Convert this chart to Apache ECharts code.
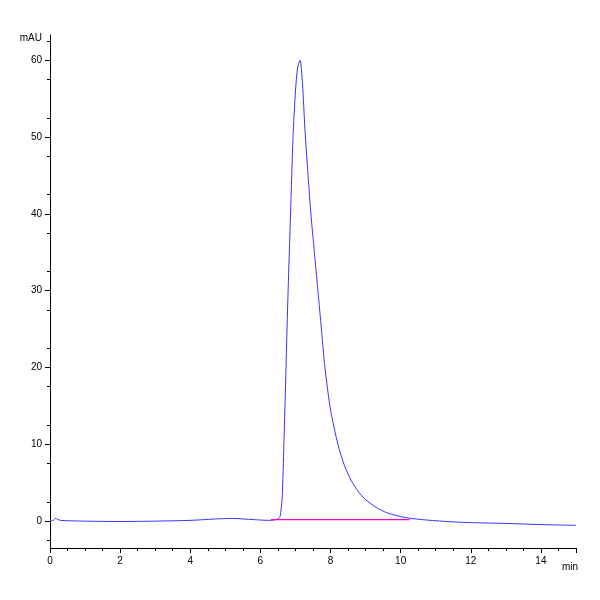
<!DOCTYPE html><html><head><meta charset="utf-8"><script src="https://cdn.jsdelivr.net/npm/echarts@6/dist/echarts.min.js"></script></head><body style="margin:0"><div id="c" style="width:600px;height:600px"></div><script>
const times=[0,0.1,0.15,0.3,1,2,3,4,4.8,5.2,5.8,6.2,6.4,6.5,6.56,6.62,6.67,6.73,6.79,6.86,6.93,7.0,7.06,7.131,7.2,7.27,7.36,7.44,7.54,7.64,7.74,7.84,8.0,8.21,8.4,8.6,8.8,9.0,9.3,9.6,10.0,10.3,10.6,11,11.5,12,13,14,15];
const signal=[0,0.1,0.35,0.1,0,-0.05,0,0.1,0.3,0.35,0.2,0.1,0.15,0.3,0.6,3,10,20,30,40,50,56,59,60,57,51,45,40,35,30,25,20,14.5,10,7.2,5.2,3.8,2.8,1.8,1.1,0.6,0.35,0.2,0.05,-0.1,-0.2,-0.3,-0.45,-0.55];
const peakTime=7.131, peakLabel='7.131';
const baseline=[[6.3,0.2],[10.25,0.2]];
const yLabels=[0,10,20,30,40,50,60];
const yMinor=[-2.5,2.5,7.5,12.5,17.5,22.5,27.5,32.5,37.5,42.5,47.5,52.5,57.5,62.5];
const c=echarts.init(document.getElementById('c'));
const ax={color:'#000',width:1};
const data=times.map((t,i)=>t===peakTime?{value:[t,signal[i]],label:{show:true,formatter:peakLabel,rotate:90,position:'top',distance:2,fontSize:10,fontFamily:'Arial',color:'#000'}}:[t,signal[i]]);
c.setOption({animation:false,
grid:{left:50,right:24,top:35,bottom:52},
graphic:[{type:'text',left:562,top:562,style:{text:'min',font:'10px Arial',fill:'#000'}}],
xAxis:{type:'value',min:0,max:15,interval:2,
axisLine:{onZero:false,lineStyle:ax},axisTick:{length:5,lineStyle:ax},minorTick:{show:true,splitNumber:4,length:3,lineStyle:ax},splitLine:{show:false},
axisLabel:{fontSize:10,fontFamily:'Arial',color:'#000',showMaxLabel:false}},
yAxis:[{type:'value',min:-3.5,max:63.3,name:'mAU',nameLocation:'end',nameGap:-8,nameTextStyle:{align:'right',padding:[0,8,0,0],fontSize:10,fontFamily:'Arial',color:'#000'},
axisLine:{lineStyle:ax},axisTick:{length:5,lineStyle:ax,customValues:yLabels},axisLabel:{fontSize:10,fontFamily:'Arial',color:'#000',customValues:yLabels},splitLine:{show:false}},
{type:'value',min:-3.5,max:63.3,position:'left',axisLine:{show:false},axisTick:{show:true,length:3,lineStyle:ax,customValues:yMinor},axisLabel:{show:false,customValues:yMinor},splitLine:{show:false}}],
series:[{type:'line',data:data,smooth:0.25,symbol:'none',showSymbol:false,lineStyle:{color:'#3333ff',width:1},labelLayout:{hideOverlap:false}},
{type:'line',data:baseline,symbol:'none',lineStyle:{color:'#ff00cc',width:1.2},z:3}]});
</script></body></html>
